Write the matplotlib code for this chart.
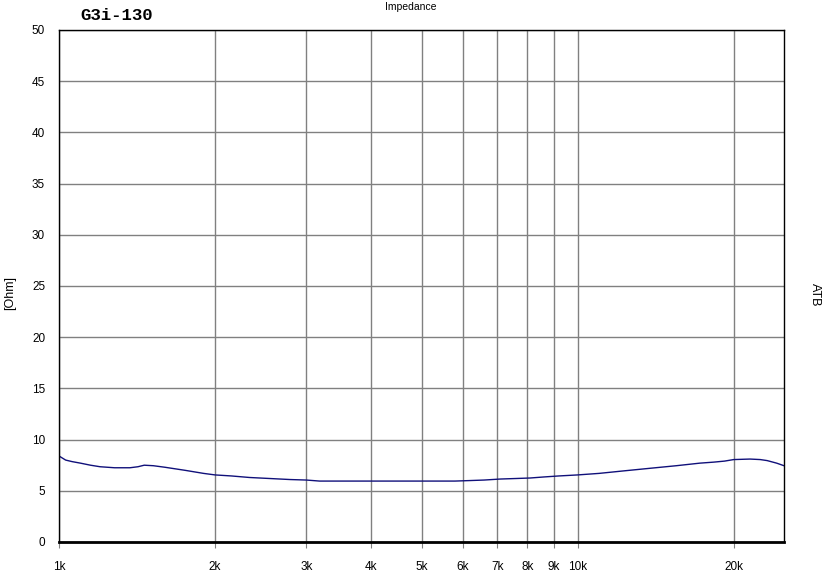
import matplotlib
matplotlib.use("Agg")
import matplotlib.pyplot as plt
from matplotlib.ticker import FixedLocator, NullLocator

# impedance curve (Hz, Ohm)
freq = [1000, 1030, 1060, 1100, 1150, 1200, 1280, 1370, 1420, 1460, 1520,
        1600, 1750, 1900, 2000, 2150, 2330, 2550, 2790, 3000, 3180, 3500,
        4000, 4500, 5000, 5500, 5800, 6200, 6600, 7100, 7600, 8100, 8600,
        9200, 10000, 11000, 12300, 13800, 15500, 17200, 18300, 19200, 20000,
        21500, 22500, 23200, 24200, 25000]
ohm = [8.4, 8.0, 7.85, 7.7, 7.5, 7.35, 7.25, 7.25, 7.35, 7.5, 7.45,
       7.3, 7.0, 6.7, 6.55, 6.45, 6.3, 6.2, 6.1, 6.05, 5.95, 5.95,
       5.95, 5.95, 5.95, 5.95, 5.95, 6.0, 6.05, 6.15, 6.2, 6.25, 6.35,
       6.45, 6.55, 6.7, 6.95, 7.2, 7.45, 7.7, 7.8, 7.9, 8.05,
       8.1, 8.05, 7.95, 7.7, 7.45]

xticks = [1000, 2000, 3000, 4000, 5000, 6000, 7000, 8000, 9000, 10000, 20000]
xlabels = ["1k", "2k", "3k", "4k", "5k", "6k", "7k", "8k", "9k", "10k", "20k"]
yticks = [0, 5, 10, 15, 20, 25, 30, 35, 40, 45, 50]

plt.rcParams['font.family'] = ['Liberation Sans', 'DejaVu Sans']

fig = plt.figure(figsize=(8.23, 5.78), dpi=100)
ax = fig.add_axes([59 / 823, 36 / 578, 725 / 823, 512 / 578])

ax.plot(freq, ohm, color='#10107a', lw=1.0)

ax.set_xscale('log')
ax.set_xlim(1000, 25000)
ax.set_ylim(0, 50)
ax.xaxis.set_major_locator(FixedLocator(xticks))
ax.xaxis.set_minor_locator(NullLocator())
ax.set_xticklabels(xlabels)
ax.set_yticks(yticks)
ax.grid(True, color='#808080', lw=1.0)
ax.tick_params(axis='x', length=4, color='#808080', labelsize=8.5, pad=10)
ax.tick_params(axis='y', length=0, labelsize=8.5, pad=10)

for s in ['top', 'left', 'right']:
    ax.spines[s].set_linewidth(1.0)
    ax.spines[s].set_color('black')
ax.spines['bottom'].set_linewidth(2.0)
ax.spines['bottom'].set_color('black')

fig.text(411 / 823, 1 - 7 / 578, "Impedance", ha='center', va='center', fontsize=7.5)
fig.text(80 / 823, 1 - 15 / 578, "G3i-130", ha='left', va='center', fontsize=12.5,
         fontweight='bold', family='Liberation Mono')
fig.text(10 / 823, 1 - 293 / 578, "[Ohm]", ha='center', va='center', fontsize=9,
         rotation=90)
fig.text(815 / 823, 1 - 295 / 578, "ATB", ha='center', va='center', fontsize=9,
         rotation=-90)

fig.savefig("out.png", dpi=100)
